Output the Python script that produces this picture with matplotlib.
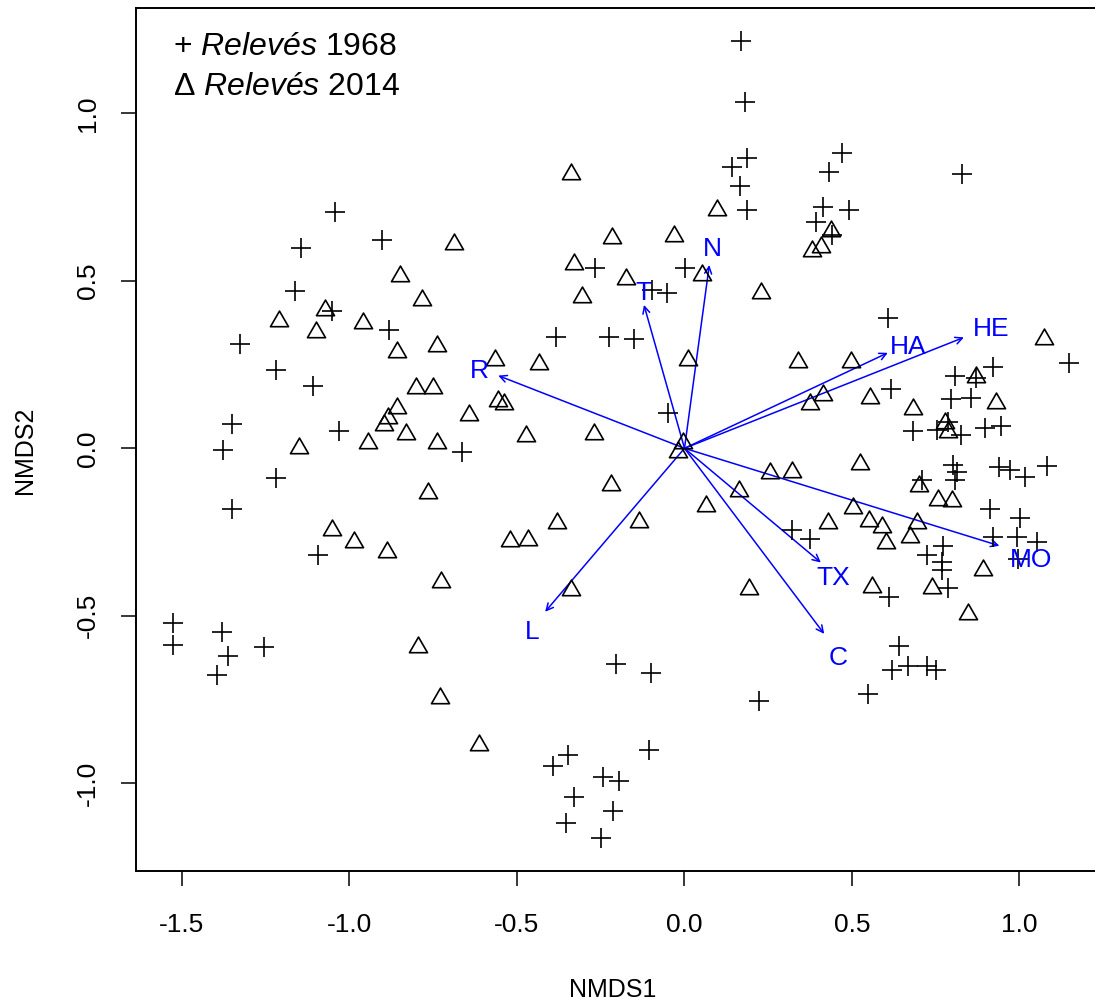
import matplotlib
matplotlib.use('Agg')
import matplotlib.pyplot as plt
from matplotlib.patches import FancyArrowPatch
from matplotlib.path import Path

plt.rcParams['font.family'] = ['Liberation Sans', 'DejaVu Sans']
plt.rcParams['mathtext.fontset'] = 'custom'
plt.rcParams['mathtext.it'] = 'Liberation Sans:italic'
plt.rcParams['mathtext.rm'] = 'Liberation Sans'
plt.rcParams['axes.unicode_minus'] = False

# ---------------- data ----------------
x1968 = [0.169, 0.180, 0.187, 0.141, 0.167, 0.187, -0.267, 0.002, -0.098, -0.051,
         0.469, 0.432, 0.827, 0.413, 0.492, 0.393, 0.441, -1.043, -1.146, -0.903,
         -1.163, -1.053, -0.881, -1.326, -1.219, -1.108, -1.350, -1.031, -1.377, -1.219,
         -1.350, -1.095, -0.665, -1.528, -1.528, -1.380, -1.362, -1.396, -1.255, -0.384,
         -0.224, -0.150, -0.050, -0.204, -0.100, 0.223, -0.105, -0.349, -0.392, -0.242,
         -0.196, -0.329, -0.214, -0.355, -0.249, 0.608, 1.148, 0.922, 0.807, 0.870,
         0.615, 0.796, 0.855, 0.683, 0.753, 0.788, 0.825, 0.897, 0.944, 0.801,
         0.812, 0.807, 0.939, 0.972, 1.016, 1.083, 0.710, 0.912, 1.001, 0.322,
         0.375, 0.922, 0.993, 1.053, 0.771, 0.725, 0.768, 0.768, 0.997, 0.610,
         0.786, 0.641, 0.620, 0.666, 0.723, 0.751, 0.547]
y1968 = [1.216, 1.034, 0.867, 0.841, 0.784, 0.711, 0.539, 0.539, 0.473, 0.463,
         0.882, 0.824, 0.819, 0.721, 0.711, 0.676, 0.637, 0.704, 0.597, 0.622,
         0.470, 0.410, 0.353, 0.310, 0.234, 0.186, 0.072, 0.052, -0.006, -0.089,
         -0.182, -0.319, -0.010, -0.521, -0.587, -0.547, -0.619, -0.677, -0.594, 0.331,
         0.333, 0.326, 0.104, -0.645, -0.672, -0.754, -0.901, -0.916, -0.948, -0.980,
         -0.993, -1.042, -1.082, -1.119, -1.164, 0.388, 0.254, 0.244, 0.216, 0.210,
         0.177, 0.146, 0.151, 0.052, 0.055, 0.079, 0.040, 0.060, 0.067, -0.050,
         -0.070, -0.095, -0.055, -0.065, -0.085, -0.053, -0.095, -0.182, -0.209, -0.244,
         -0.272, -0.264, -0.266, -0.279, -0.291, -0.319, -0.340, -0.362, -0.331, -0.443,
         -0.418, -0.590, -0.662, -0.650, -0.650, -0.662, -0.733]

x2014 = [-0.339, -0.688, -0.216, -0.030, 0.096, -0.329, 0.051, 0.228, -0.307, -0.176,
         0.437, 0.408, 0.380, -0.849, -0.783, -1.073, -1.210, -1.100, -0.959, -0.740,
         -0.859, -0.802, -0.752, -0.859, -0.884, -0.896, -0.832, -0.944, -0.738, -1.150,
         -0.765, -1.053, -0.987, -0.889, -0.727, -0.796, -0.730, -0.566, -0.434, 0.011,
         -0.556, -0.539, -0.643, -0.473, -0.270, -0.005, -0.020, -0.219, 0.163, 0.063,
         -0.380, -0.135, -0.521, -0.466, -0.339, 0.193, -0.613, 1.073, 0.340, 0.496,
         0.870, 0.413, 0.375, 0.554, 0.929, 0.683, 0.778, 0.788, 0.524, 0.255,
         0.322, 0.700, 0.756, 0.799, 0.504, 0.427, 0.552, 0.589, 0.693, 0.601,
         0.673, 0.890, 0.561, 0.740, 0.847]
y2014 = [0.819, 0.609, 0.629, 0.634, 0.711, 0.549, 0.517, 0.464, 0.452, 0.504,
         0.649, 0.602, 0.590, 0.514, 0.443, 0.413, 0.381, 0.348, 0.373, 0.305,
         0.288, 0.179, 0.179, 0.119, 0.090, 0.070, 0.043, 0.017, 0.015, 0.000,
         -0.132, -0.244, -0.279, -0.309, -0.399, -0.594, -0.744, 0.264, 0.252, 0.264,
         0.142, 0.132, 0.099, 0.037, 0.042, 0.017, -0.010, -0.110, -0.127, -0.172,
         -0.224, -0.221, -0.277, -0.274, -0.423, -0.421, -0.886, 0.325, 0.259, 0.259,
         0.212, 0.159, 0.132, 0.149, 0.134, 0.117, 0.075, 0.050, -0.047, -0.073,
         -0.072, -0.112, -0.154, -0.157, -0.179, -0.222, -0.217, -0.236, -0.222, -0.282,
         -0.266, -0.363, -0.413, -0.418, -0.496]

env_names = ['N', 'T', 'R', 'HA', 'HE', 'MO', 'TX', 'C', 'L']
env_x = [0.074, -0.121, -0.556, 0.607, 0.834, 0.940, 0.407, 0.417, -0.416]
env_y = [0.547, 0.428, 0.217, 0.285, 0.331, -0.291, -0.341, -0.554, -0.488]
lab_x = [0.082, -0.124, -0.611, 0.667, 0.914, 1.035, 0.443, 0.458, -0.455]
lab_y = [0.594, 0.463, 0.231, 0.302, 0.356, -0.333, -0.388, -0.627, -0.547]

xticks = [-1.5, -1.0, -0.5, 0.0, 0.5, 1.0]
yticks = [-1.0, -0.5, 0.0, 0.5, 1.0]

# ---------------- figure ----------------
W, H = 1095, 1006
fig = plt.figure(figsize=(W / 100, H / 100), dpi=100)
ax = fig.add_axes([136 / W, (H - 871) / H, (1126.7 - 136) / W, (871 - 8.3) / H])
ax.set_xlim(-1.6373, 1.32)
ax.set_ylim(-1.2618, 1.3134)

tri = Path([(-1.0, -0.577), (1.0, -0.577), (0.0, 1.155), (-1.0, -0.577)],
           [Path.MOVETO, Path.LINETO, Path.LINETO, Path.CLOSEPOLY])

ax.plot(x1968, y1968, ls='none', marker='+', ms=13.7, mew=1.2, color='black')
ax.plot(x2014, y2014, ls='none', marker=tri, ms=15, mew=1.2, mfc='none', mec='black')

for ex, ey in zip(env_x, env_y):
    ax.add_patch(FancyArrowPatch((0, 0), (ex, ey),
                                 arrowstyle='->,head_length=0.5,head_width=0.25',
                                 mutation_scale=10, color='blue', lw=1.1,
                                 shrinkA=0, shrinkB=0))
for name, lx, ly in zip(env_names, lab_x, lab_y):
    ax.text(lx, ly, name, color='blue', fontsize=19, ha='center', va='center')

ax.set_xticks(xticks)
ax.set_xticklabels([f'{v:.1f}' for v in xticks])
ax.set_yticks(yticks)
ax.set_yticklabels([f'{v:.1f}' for v in yticks], rotation=90, va='center')
ax.tick_params(axis='both', direction='out', length=11, width=1.1, labelsize=19)
ax.tick_params(axis='x', pad=19)
ax.tick_params(axis='y', pad=15)
for s in ax.spines.values():
    s.set_linewidth(1.4)

ax.set_xlabel('NMDS1', fontsize=18)
ax.xaxis.set_label_coords((613 - 136) / 990.7, (871 - 990) / 862.7)
ax.xaxis.label.set_va('center')
ax.set_ylabel('NMDS2', fontsize=18)
ax.yaxis.set_label_coords((25 - 136) / 990.7, (871 - 450) / 862.7)
ax.yaxis.label.set_va('center')

ax.text(0.0373, 0.955, '+ $\\mathit{Relevés}$ 1968', transform=ax.transAxes,
        fontsize=23, ha='left', va='center')
ax.text(0.0373, 0.909, 'Δ $\\mathit{Relevés}$ 2014', transform=ax.transAxes,
        fontsize=23, ha='left', va='center')

fig.savefig('out.png', dpi=100)
